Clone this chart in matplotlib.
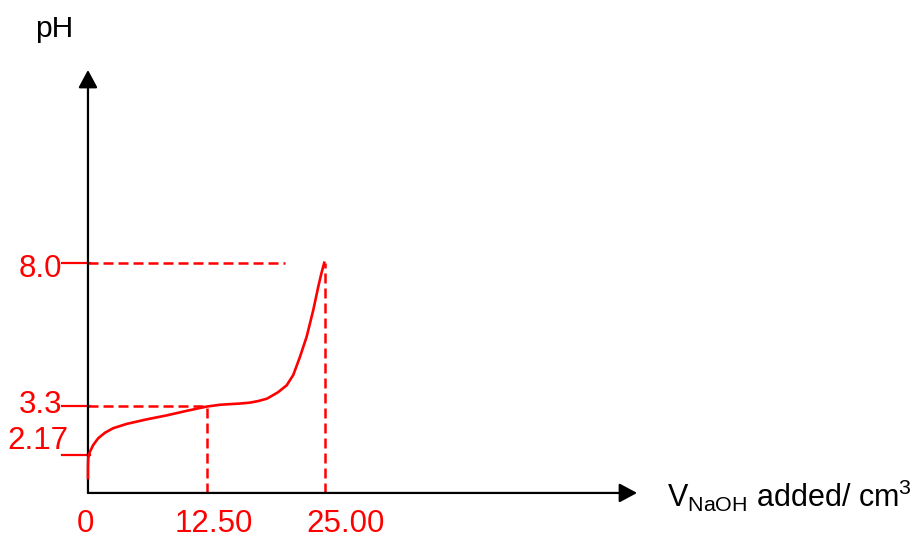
import matplotlib.pyplot as plt

plt.rcParams["font.family"] = ["Liberation Sans", "DejaVu Sans"]
plt.rcParams["mathtext.fontset"] = "custom"
plt.rcParams["mathtext.rm"] = "Liberation Sans"

# titration curve (volume in cm3, pH as drawn)
vol = [0, 0, 0.03, 0.21, 0.56, 1.08, 1.79, 2.66, 4.07, 6.18, 8.28, 10.39,
       12.5, 13.89, 16.0, 17.05, 17.9, 18.84, 20.0, 20.92, 21.61, 22.32,
       23.02, 23.72, 24.24, 24.57, 24.87]
ph = [0.92, 1.29, 1.58, 1.79, 2.01, 2.23, 2.41, 2.56, 2.70, 2.85, 2.98, 3.13,
      3.27, 3.33, 3.37, 3.40, 3.45, 3.53, 3.74, 3.97, 4.31, 4.91,
      5.57, 6.45, 7.21, 7.65, 8.0]

# marked points
half_eq = (12.5, 3.3)
equiv = (25.0, 8.0)
start_level = 1.68  # where the 2.17 mark is drawn on the sketch

y_labels = ["8.0", "3.3", "2.17"]
y_label_base = [7.53, 3.06, 1.875]
y_label_right = [-2.75, -2.75, -2.1]
x_labels = ["0", "12.50", "25.00"]
x_label_pos = [-0.3, 13.26, 27.16]

RED = "#ff0000"
dash = (0, (4, 2))

fig = plt.figure(figsize=(9.16, 5.34), dpi=100)
ax = fig.add_axes([0, 0, 1, 1])
ax.set_xlim(-9.26, 87.16)
ax.set_ylim(-0.92, 16.64)
ax.axis("off")

base = 0.43
arrow = dict(arrowstyle="-|>,head_length=0.54,head_width=0.29",
             color="black", lw=1.6, mutation_scale=20, shrinkA=0, shrinkB=0)
ax.annotate("", xy=(57.8, base), xytext=(0, base), arrowprops=arrow)
ax.annotate("", xy=(0, 14.34), xytext=(0, base), arrowprops=arrow)

# guide lines
ax.plot([0, 20.7], [equiv[1], equiv[1]], color=RED, lw=1.8, ls=dash)
ax.plot([equiv[0], equiv[0]], [base, equiv[1]], color=RED, lw=1.8, ls=dash)
ax.plot([0, half_eq[0]], [half_eq[1], half_eq[1]], color=RED, lw=1.8, ls=dash)
ax.plot([half_eq[0], half_eq[0]], [base, half_eq[1]], color=RED, lw=1.8, ls=dash)

for lvl in [equiv[1], half_eq[1], start_level]:
    ax.plot([-2.7, 0.2], [lvl, lvl], color=RED, lw=1.6)

ax.plot(vol, ph, color=RED, lw=1.9, zorder=5, solid_joinstyle="round")

for lab, yb, xr in zip(y_labels, y_label_base, y_label_right):
    ax.text(xr, yb, lab, color=RED, fontsize=22.5, ha="right", va="baseline")
for xp, lab in zip(x_label_pos, x_labels):
    ax.text(xp, -0.85, lab, color=RED, fontsize=22.5, ha="center", va="baseline")

ax.text(-5.58, 15.43, "pH", fontsize=21.5, ha="left", va="baseline")
ax.text(60.9, -0.03, r"V$_{\mathrm{NaOH}}$ added/ cm$^{3}$", fontsize=22,
        ha="left", va="baseline")

fig.savefig("out.png", dpi=100)
